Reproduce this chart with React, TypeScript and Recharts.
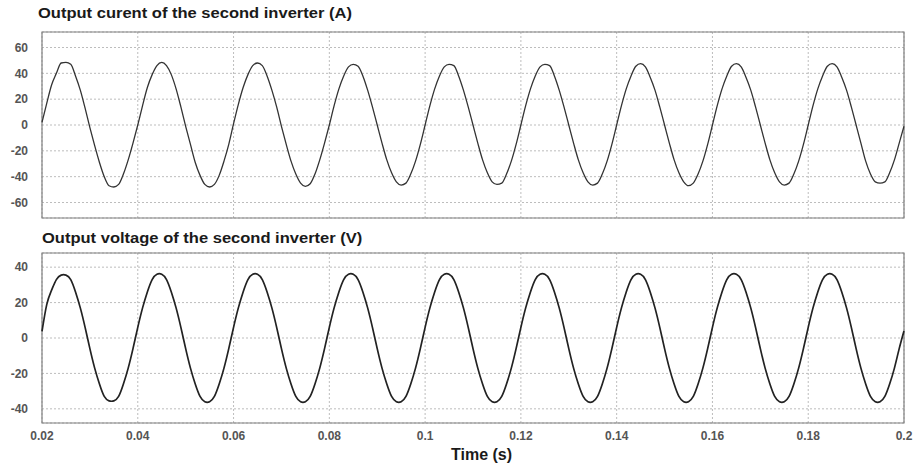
import React from 'react';
import { LineChart, Line, XAxis, YAxis, CartesianGrid, ReferenceArea } from 'recharts';

// sampling: one value every 1 ms from 0.02 s to 0.2 s
const tStart = 0.02;
const tStep = 0.001;

const xTicks = [0.02, 0.04, 0.06, 0.08, 0.1, 0.12, 0.14, 0.16, 0.18, 0.2];
const currentTicks = [-60, -40, -20, 0, 20, 40, 60];
const voltageTicks = [-40, -20, 0, 20, 40];

// output current of the second inverter (A)
const current = [
  2, 17, 31, 40, 48, 48.5, 47, 38, 27, 13, -2, -16, -29, -40, -47, -48, -46, -38, -27, -14,
  0, 15, 29, 39, 46, 48.5, 46, 39, 28, 14, -1, -15, -29, -39, -46, -48, -46, -39, -28, -15,
  1, 16, 29, 39, 46, 48, 46, 38, 27, 14, -1, -15, -28, -38, -45, -47.5, -45.5, -38, -27, -14,
  0, 15, 28, 38, 45, 47, 45.5, 38, 27, 14, 0, -14, -27, -37, -44, -46.5, -45, -38, -28, -15,
  0, 15, 28, 38, 45, 47, 46, 38, 27, 14, 0, -14, -27, -37, -44, -46, -45, -38, -28, -15,
  0, 15, 28, 38, 45, 47, 46, 38, 27, 14, 0, -14, -27, -37, -44, -46.5, -45, -38, -28, -15,
  0, 15, 28, 38, 45.5, 47.5, 45, 37, 27, 14, 0, -14, -27, -37, -44, -47, -45, -38, -28, -15,
  0, 15, 28, 38, 45.5, 47.5, 45, 37, 27, 14, 0, -14, -27, -37, -44, -46.5, -45, -38, -28, -15,
  0, 15, 28, 38, 45.5, 47.5, 45, 37, 27, 14, 0, -14, -28, -38, -44, -45, -44, -37, -27, -14,
  -1,
];

// output voltage of the second inverter (V)
const voltage = [
  3.7, 19, 27, 33, 35.5, 35.5, 33, 26, 17, 6, -6, -17, -26, -33, -35.5, -35.5, -33, -26, -17, -6,
  6, 17, 26, 33, 36, 36, 33, 26, 17, 6, -6, -17, -26, -33, -36, -36, -33, -26, -17, -6,
  6, 17, 26, 33, 36, 36, 33, 26, 17, 6, -6, -17, -26, -33, -36, -36, -33, -26, -17, -6,
  6, 17, 26, 33, 36, 36, 33, 26, 17, 6, -6, -17, -26, -33, -36, -36, -33, -26, -17, -6,
  6, 17, 26, 33, 36, 36, 33, 26, 17, 6, -6, -17, -26, -33, -36, -36, -33, -26, -17, -6,
  6, 17, 26, 33, 36, 36, 33, 26, 17, 6, -6, -17, -26, -33, -36, -36, -33, -26, -17, -6,
  6, 17, 26, 33, 36, 36, 33, 26, 17, 6, -6, -17, -26, -33, -36, -36, -33, -26, -17, -6,
  6, 17, 26, 33, 36, 36, 33, 26, 17, 6, -6, -17, -26, -33, -36, -36, -33, -26, -17, -6,
  6, 17, 26, 33, 36, 36, 33, 26, 17, 6, -6, -17, -26, -33, -36, -36, -33, -26, -17, -6,
  4,
];

const currentData = current.map((v, i) => ({ t: +(tStart + i * tStep).toFixed(3), v }));
const voltageData = voltage.map((v, i) => ({ t: +(tStart + i * tStep).toFixed(3), v }));

const font = 'Arial, "Liberation Sans", sans-serif';
const tickStyle = { fontSize: 12, fontWeight: 700, fill: '#555', fontFamily: font };
const gridStroke = '#bdbdbd';

// the titles in the picture are a bit stretched horizontally
const titleStyle: React.CSSProperties = {
  position: 'absolute',
  fontFamily: font,
  fontWeight: 700,
  fontSize: 14,
  color: '#1a1a1a',
  whiteSpace: 'nowrap',
  transform: 'scaleX(1.18)',
  transformOrigin: 'left top',
};

export default function App() {
  return (
    <div style={{ position: 'absolute', left: 0, top: 0, width: 914, height: 470, background: '#fff' }}>
      <div style={{ ...titleStyle, left: 38, top: 5 }}>Output curent of the second inverter (A)</div>

      <div style={{ position: 'absolute', left: 0, top: 0 }}>
        <LineChart width={914} height={225} data={currentData} margin={{ top: 32, right: 10, bottom: 7, left: 0 }}>
          <CartesianGrid stroke={gridStroke} strokeDasharray="2 2" />
          <XAxis dataKey="t" type="number" domain={[0.02, 0.2]} ticks={xTicks} hide />
          <YAxis
            type="number"
            domain={[-72, 72]}
            ticks={currentTicks}
            width={42}
            axisLine={false}
            tickLine={false}
            tickSize={6}
            tickMargin={8}
            tick={tickStyle}
          />
          <ReferenceArea x1={0.02} x2={0.2} y1={-72} y2={72} fill="none" stroke="#808080" strokeWidth={1.2} />
          <Line type="monotone" dataKey="v" stroke="#333" strokeWidth={1.3} dot={false} isAnimationActive={false} />
        </LineChart>
      </div>

      <div style={{ ...titleStyle, left: 42, top: 230 }}>Output voltage of the second inverter (V)</div>

      <div style={{ position: 'absolute', left: 0, top: 225 }}>
        <LineChart width={914} height={245} data={voltageData} margin={{ top: 28, right: 10, bottom: 0, left: 0 }}>
          <CartesianGrid stroke={gridStroke} strokeDasharray="2 2" />
          <XAxis
            dataKey="t"
            type="number"
            domain={[0.02, 0.2]}
            ticks={xTicks}
            tickFormatter={(v: number) => String(v)}
            height={47}
            axisLine={false}
            tickLine={false}
            tick={tickStyle}
          />
          <YAxis
            type="number"
            domain={[-48, 48]}
            ticks={voltageTicks}
            width={42}
            axisLine={false}
            tickLine={false}
            tickSize={6}
            tickMargin={8}
            tick={tickStyle}
          />
          <ReferenceArea x1={0.02} x2={0.2} y1={-48} y2={48} fill="none" stroke="#808080" strokeWidth={1.2} />
          <Line type="natural" dataKey="v" stroke="#222" strokeWidth={1.7} dot={false} isAnimationActive={false} />
        </LineChart>
      </div>

      <div style={{ ...titleStyle, transform: 'none', left: 451, top: 446, fontSize: 16 }}>Time (s)</div>
    </div>
  );
}
